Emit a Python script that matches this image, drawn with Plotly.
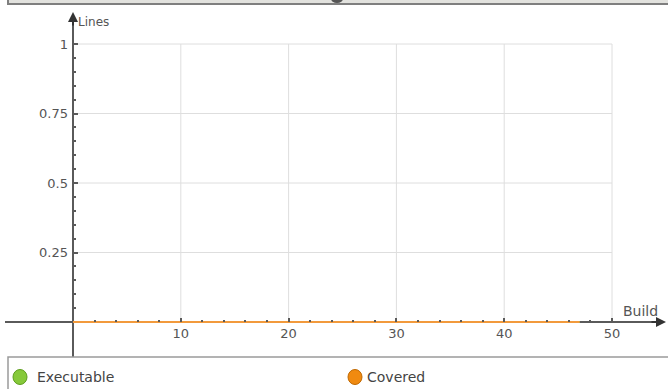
import plotly.graph_objects as go

# data
builds = list(range(0, 48))
executable = [0] * len(builds)
covered = [0] * len(builds)

x_major = [10, 20, 30, 40, 50]
x_minor = [v for v in range(2, 50, 2) if v % 10]
y_major = [0.25, 0.5, 0.75, 1]
y_major_text = ["0.25", "0.5", "0.75", "1"]
y_minor = [round(0.05 * i, 2) for i in range(1, 20) if i % 5]

W, H = 668, 389
X0, XS = 73, 10.78   # pixel of x=0, pixels per unit
Y0, YS = 322, 278    # pixel of y=0, pixels per unit


def px_x(p):
    return p / W


def px_y(p):
    return 1 - p / H


def dx(p):
    return (p - X0) / XS


def dy(p):
    return (Y0 - p) / YS


AX = "#5a5a5a"
GRID = "#dedede"
GREEN = "#86c93a"
ORANGE = "#f29a3c"

fig = go.Figure()
fig.add_trace(go.Scatter(x=builds, y=executable, mode="lines", name="Executable",
                         line=dict(color=GREEN, width=2), showlegend=False))
fig.add_trace(go.Scatter(x=builds, y=covered, mode="lines", name="Covered",
                         line=dict(color=ORANGE, width=2), showlegend=False))

shapes = []
# grid restricted to the [0,50] x [0,1] box
for v in x_major:
    shapes.append(dict(type="line", x0=v, x1=v, y0=0, y1=1, line=dict(color=GRID, width=1), layer="below"))
for v in y_major:
    shapes.append(dict(type="line", x0=0, x1=50, y0=v, y1=v, line=dict(color=GRID, width=1), layer="below"))
# axes
shapes.append(dict(type="line", x0=dx(5), x1=dx(662), y0=0, y1=0, line=dict(color=AX, width=2), layer="below"))
shapes.append(dict(type="line", x0=0, x1=0, y0=dy(357), y1=dy(16), line=dict(color=AX, width=2), layer="below"))
# top frame strip
shapes.append(dict(type="rect", xref="paper", yref="paper", x0=px_x(8), x1=px_x(675), y0=px_y(4), y1=px_y(-6),
                   fillcolor="#e2e2de", line=dict(color="#7f7f7f", width=2)))
shapes.append(dict(type="circle", xref="paper", yref="paper", x0=px_x(331), x1=px_x(343), y0=px_y(3), y1=px_y(-6),
                   fillcolor="#555", line=dict(width=0)))
# legend box
shapes.append(dict(type="rect", xref="paper", yref="paper", x0=px_x(8), x1=px_x(680), y0=px_y(395), y1=px_y(357),
                   fillcolor="white", line=dict(color="#9a9a9a", width=1.5)))
shapes.append(dict(type="circle", xref="paper", yref="paper", x0=px_x(13), x1=px_x(27), y0=px_y(384.5), y1=px_y(369.5),
                   fillcolor=GREEN, line=dict(color="#5e9e1e", width=1)))
shapes.append(dict(type="circle", xref="paper", yref="paper", x0=px_x(348), x1=px_x(362), y0=px_y(384.5), y1=px_y(369.5),
                   fillcolor="#f08a10", line=dict(color="#c06800", width=1)))

annotations = [
    dict(x=dx(666), y=0, ax=dx(650), ay=0, axref="x", ayref="y", xref="x", yref="y", text="",
         showarrow=True, arrowhead=2, arrowsize=1, arrowwidth=2, arrowcolor="#333"),
    dict(x=0, y=dy(12), ax=0, ay=dy(27), axref="x", ayref="y", xref="x", yref="y", text="",
         showarrow=True, arrowhead=2, arrowsize=1, arrowwidth=2, arrowcolor="#333"),
    dict(x=px_x(76), y=px_y(22), xref="paper", yref="paper", text="Lines", showarrow=False,
         xanchor="left", yanchor="middle", font=dict(size=12, color="#555")),
    dict(x=px_x(621), y=px_y(311), xref="paper", yref="paper", text="Build", showarrow=False,
         xanchor="left", yanchor="middle", font=dict(size=14, color="#555")),
    dict(x=px_x(35), y=px_y(377), xref="paper", yref="paper", text="Executable", showarrow=False,
         xanchor="left", yanchor="middle", font=dict(size=14, color="#444")),
    dict(x=px_x(365), y=px_y(377), xref="paper", yref="paper", text="Covered", showarrow=False,
         xanchor="left", yanchor="middle", font=dict(size=14, color="#444")),
]

fig.update_layout(
    width=W, height=H,
    margin=dict(l=0, r=0, t=0, b=0, pad=0),
    paper_bgcolor="white", plot_bgcolor="white",
    font=dict(family="DejaVu Sans", size=12, color="#555"),
    showlegend=False,
    shapes=shapes,
    annotations=annotations,
    xaxis=dict(range=[dx(0), dx(W)], showgrid=False, zeroline=False, showline=False,
               anchor="free", position=px_y(Y0),
               tickvals=x_major, ticktext=[str(v) for v in x_major],
               ticks="inside", ticklen=4, tickwidth=1.5, tickcolor=AX,
               minor=dict(tickvals=x_minor, ticks="inside", ticklen=2, tickwidth=1.5, tickcolor=AX),
               tickfont=dict(size=13, color="#555"), ticklabelstandoff=2),
    yaxis=dict(range=[dy(H), dy(0)], showgrid=False, zeroline=False, showline=False,
               anchor="free", position=px_x(X0),
               tickvals=y_major, ticktext=y_major_text,
               ticks="inside", ticklen=4, tickwidth=1.5, tickcolor=AX,
               minor=dict(tickvals=y_minor, ticks="inside", ticklen=2, tickwidth=1.5, tickcolor=AX),
               tickfont=dict(size=13, color="#555"), ticklabelstandoff=5),
)

fig.write_html("out.html", config={"displayModeBar": False},
               post_script="document.body.style.margin='0';")
